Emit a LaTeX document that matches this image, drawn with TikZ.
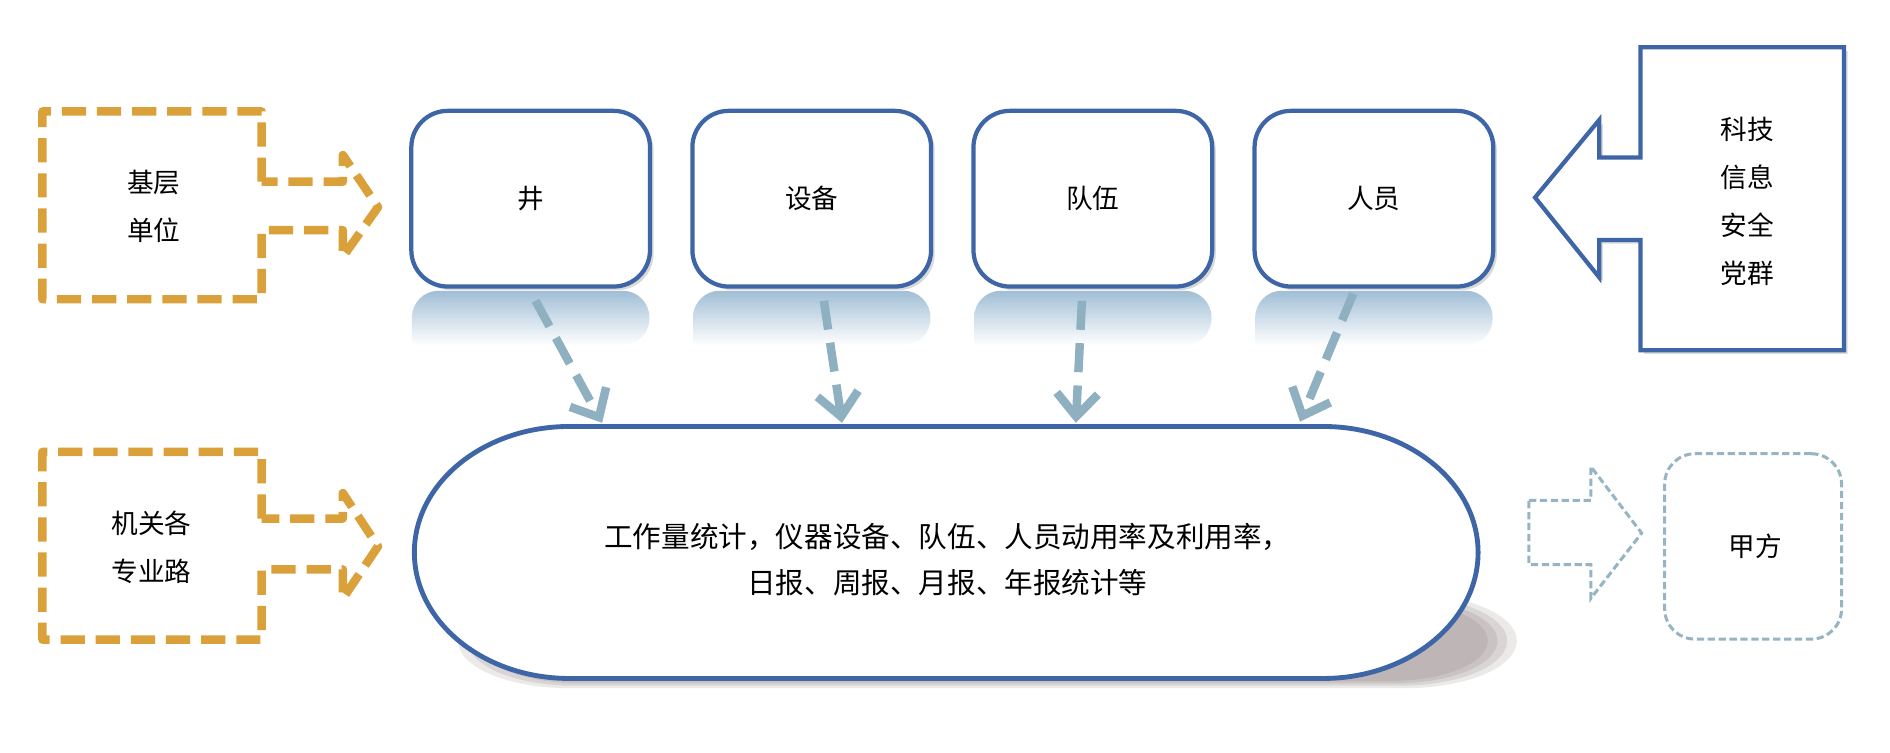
\documentclass[tikz,border=0pt]{standalone}
\usepackage{fontspec}
\newfontfamily\cjk{Noto Sans CJK SC}
\usetikzlibrary{arrows.meta,shadows}
\definecolor{orng}{RGB}{218,160,58}
\definecolor{bline}{RGB}{62,102,166}
\definecolor{garrow}{RGB}{143,176,192}
\definecolor{lgrey}{RGB}{150,180,196}
\definecolor{refl}{RGB}{160,190,214}
\definecolor{shd}{RGB}{178,168,168}
\begin{document}
\begin{tikzpicture}[x=1pt,y=-1pt,
  orgdash/.style={draw=orng,line width=7pt,dash pattern=on 20pt off 9pt,line join=round},
  topbox/.style={draw=bline,line width=3.5pt,fill=white,rounded corners=30pt,
     minimum width=197pt,minimum height=145pt,
     drop shadow={shadow xshift=3pt,shadow yshift=-3pt,opacity=0.3}},
  txt/.style={font=\cjk\fontsize{22}{39.5}\selectfont,align=center,inner sep=0pt},
  bigtxt/.style={font=\cjk\fontsize{23.6}{38}\selectfont,align=center,inner sep=0pt},
  garr/.style={draw=garrow,line width=7pt,dash pattern=on 24pt off 11pt,
     -{Straight Barb[length=19pt,width=34pt]}},
  lgdash/.style={draw=lgrey,line width=2.5pt,dash pattern=on 6pt off 3pt},
  reflshade/.style={top color=refl,bottom color=white}
]
\useasboundingbox (0,0) rectangle (1560,620.7);

% reflections
\foreach \cx in {438,670,902,1134}{
  \shade[reflshade,rounded corners=22pt] (\cx-98,285) -- (\cx-98,240) -- (\cx+98,240) -- (\cx+98,285) [sharp corners]-- cycle;
}

% top boxes
\node[topbox,txt] (well) at (438,164) {井};
\node[topbox,txt] (equip) at (670,164) {设备};
\node[topbox,txt] (team) at (902,164) {队伍};
\node[topbox,txt] (staff) at (1134,164) {人员};

% left orange block arrows
\draw[orgdash] (216,150) -- (216,92) -- (35,92) -- (35,247) -- (216,247) -- (216,190) -- (283,190) -- (283,212) -- (312,171) -- (283,128) -- (283,150) -- cycle;
\node[txt] (base) at (127,170) {基层\\单位};

\draw[orgdash] (216,428) -- (216,373) -- (35,373) -- (35,528) -- (216,528) -- (216,470) -- (283,470) -- (283,494) -- (312,451) -- (283,407) -- (283,428) -- cycle;
\node[txt] (organ) at (125,452) {机关各\\专业路};

% right blue block arrow
\draw[draw=bline,line width=3.5pt,fill=white,drop shadow={shadow xshift=3pt,shadow yshift=-3pt,opacity=0.3}]
  (1354,39) -- (1354,130) -- (1320,130) -- (1320,99) -- (1267,163) -- (1320,229) -- (1320,198) -- (1354,198) -- (1354,289) -- (1522,289) -- (1522,39) -- cycle;
\node[txt] (sci) at (1442,166) {科技\\信息\\安全\\党群};

% stadium shadow (flattened, soft)
\foreach \g/\op in {0/0.25,4/0.3,8/0.4,12/0.5}{
  \fill[shd,opacity=\op] (470+\g,490+\g*0.5) -- (1160-\g,490+\g*0.5)
     arc[start angle=-90,end angle=90,x radius=92-\g,y radius=39-\g*0.5]
     -- (470+\g,568-\g*0.5)
     arc[start angle=90,end angle=270,x radius=92-\g,y radius=39-\g*0.5] -- cycle;
}
% stadium
\def\stadpath{(470,352) -- (1092,352) arc[start angle=-90,end angle=90,x radius=128,y radius=104] -- (470,560) arc[start angle=90,end angle=270,x radius=128,y radius=104] -- cycle}
\filldraw[draw=bline,line width=4pt,fill=white] \stadpath;
\node[bigtxt] (stat) at (782,462) {工作量统计，仪器设备、队伍、人员动用率及利用率，\\日报、周报、月报、年报统计等};

\coordinate (e1) at (497,349);
\coordinate (e2) at (695,349);
\coordinate (e3) at (888,349);
\coordinate (e4) at (1073,348);
\draw[garr] ([xshift=4pt,yshift=-10pt]well.south) -- (e1);
\draw[garr] ([xshift=10pt,yshift=-10pt]equip.south) -- (e2);
\draw[garr] ([xshift=-9pt,yshift=-10pt]team.south) -- (e3);
\draw[garr] ([xshift=-17pt,yshift=-4pt]staff.south) -- (e4);

% right bottom light dashed
\draw[lgdash] (1262,413) -- (1313,413) -- (1313,385) -- (1355,440) -- (1313,494) -- (1313,466) -- (1262,466) -- cycle;
\node[draw=lgrey,line width=2.5pt,dash pattern=on 6pt off 3pt,rounded corners=25pt,
   minimum width=146pt,minimum height=153pt] (party) at (1447,451) {};
\node[txt] (partytxt) at (1449,451) {甲方};
\end{tikzpicture}
\end{document}
